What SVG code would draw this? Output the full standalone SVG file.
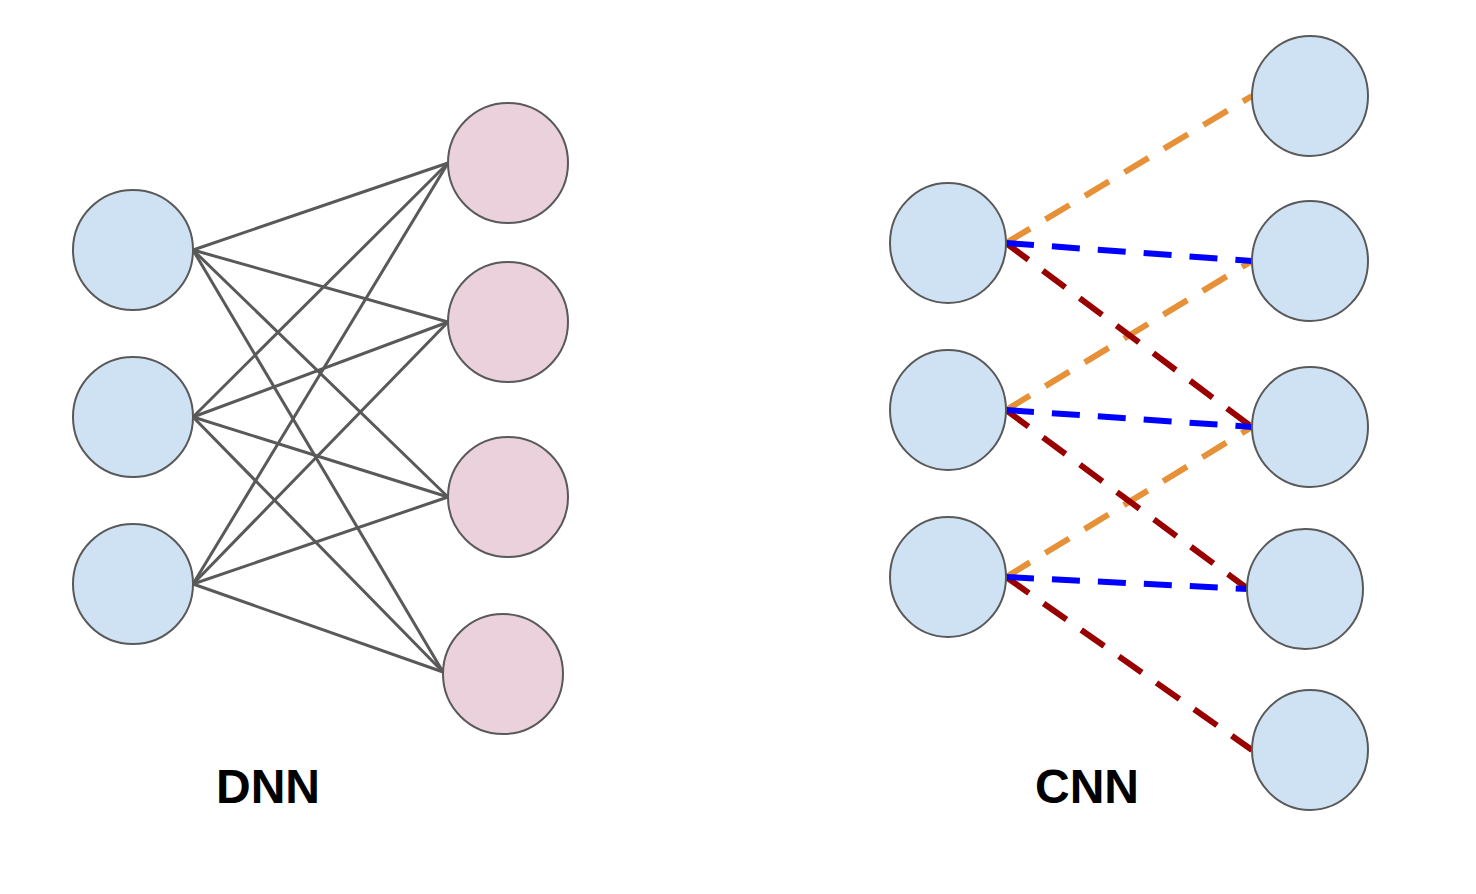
<svg xmlns="http://www.w3.org/2000/svg" width="1476" height="894" viewBox="0 0 1476 894">
<style>
.in{fill:#cfe2f3;stroke:#595959;stroke-width:2}
.out{fill:#ead1dc;stroke:#595959;stroke-width:2}
.full line{stroke:#595959;stroke-width:3}
.d{stroke-width:6;stroke-dasharray:28 18;fill:none}
.o{stroke:#e69138}
.b{stroke:#0000ff}
.r{stroke:#990000}
.lbl{font-family:"Liberation Sans",Arial,sans-serif;font-weight:bold;font-size:48px;fill:#000;text-anchor:middle}
</style>
<rect width="1476" height="894" fill="#fff"/>
<g id="dnn-connectors" class="full">
<line x1="193" y1="250" x2="448" y2="163"/>
<line x1="193" y1="250" x2="448" y2="322"/>
<line x1="193" y1="250" x2="448" y2="497"/>
<line x1="193" y1="250" x2="443" y2="672"/>
<line x1="193" y1="417" x2="448" y2="163"/>
<line x1="193" y1="417" x2="448" y2="322"/>
<line x1="193" y1="417" x2="448" y2="497"/>
<line x1="193" y1="417" x2="443" y2="672"/>
<line x1="193" y1="584" x2="448" y2="163"/>
<line x1="193" y1="584" x2="448" y2="322"/>
<line x1="193" y1="584" x2="448" y2="497"/>
<line x1="193" y1="584" x2="443" y2="672"/>
</g>
<g id="dnn-in1"><ellipse class="in" cx="133" cy="250" rx="60" ry="60"/></g>
<g id="dnn-in2"><ellipse class="in" cx="133" cy="417" rx="60" ry="60"/></g>
<g id="dnn-in3"><ellipse class="in" cx="133" cy="584" rx="60" ry="60"/></g>
<g id="dnn-out1"><ellipse class="out" cx="508" cy="163" rx="60" ry="60"/></g>
<g id="dnn-out2"><ellipse class="out" cx="508" cy="322" rx="60" ry="60"/></g>
<g id="dnn-out3"><ellipse class="out" cx="508" cy="497" rx="60" ry="60"/></g>
<g id="dnn-out4"><ellipse class="out" cx="503" cy="674" rx="60" ry="60"/></g>
<g id="cnn-connectors">
<line class="d o" x1="1006" y1="243" x2="1252" y2="96"/>
<line class="d o" x1="1006" y1="410" x2="1252" y2="261"/>
<line class="d o" x1="1006" y1="577" x2="1252" y2="427"/>
<line class="d r" x1="1006" y1="243" x2="1252" y2="427"/>
<line class="d r" x1="1006" y1="410" x2="1248" y2="589"/>
<line class="d r" x1="1006" y1="577" x2="1252" y2="750"/>
<line class="d b" x1="1006" y1="243" x2="1252" y2="261"/>
<line class="d b" x1="1006" y1="410" x2="1252" y2="427"/>
<line class="d b" x1="1006" y1="577" x2="1248" y2="589"/>
</g>
<g id="cnn-in1"><ellipse class="in" cx="948" cy="243" rx="58" ry="60"/></g>
<g id="cnn-in2"><ellipse class="in" cx="948" cy="410" rx="58" ry="60"/></g>
<g id="cnn-in3"><ellipse class="in" cx="948" cy="577" rx="58" ry="60"/></g>
<g id="cnn-out1"><ellipse class="in" cx="1310" cy="96" rx="58" ry="60"/></g>
<g id="cnn-out2"><ellipse class="in" cx="1310" cy="261" rx="58" ry="60"/></g>
<g id="cnn-out3"><ellipse class="in" cx="1310" cy="427" rx="58" ry="60"/></g>
<g id="cnn-out4"><ellipse class="in" cx="1305" cy="589" rx="58" ry="60"/></g>
<g id="cnn-out5"><ellipse class="in" cx="1310" cy="750" rx="58" ry="60"/></g>
<g id="labels">
<text class="lbl" x="268" y="803">DNN</text>
<text class="lbl" x="1087" y="803">CNN</text>
</g>
</svg>
